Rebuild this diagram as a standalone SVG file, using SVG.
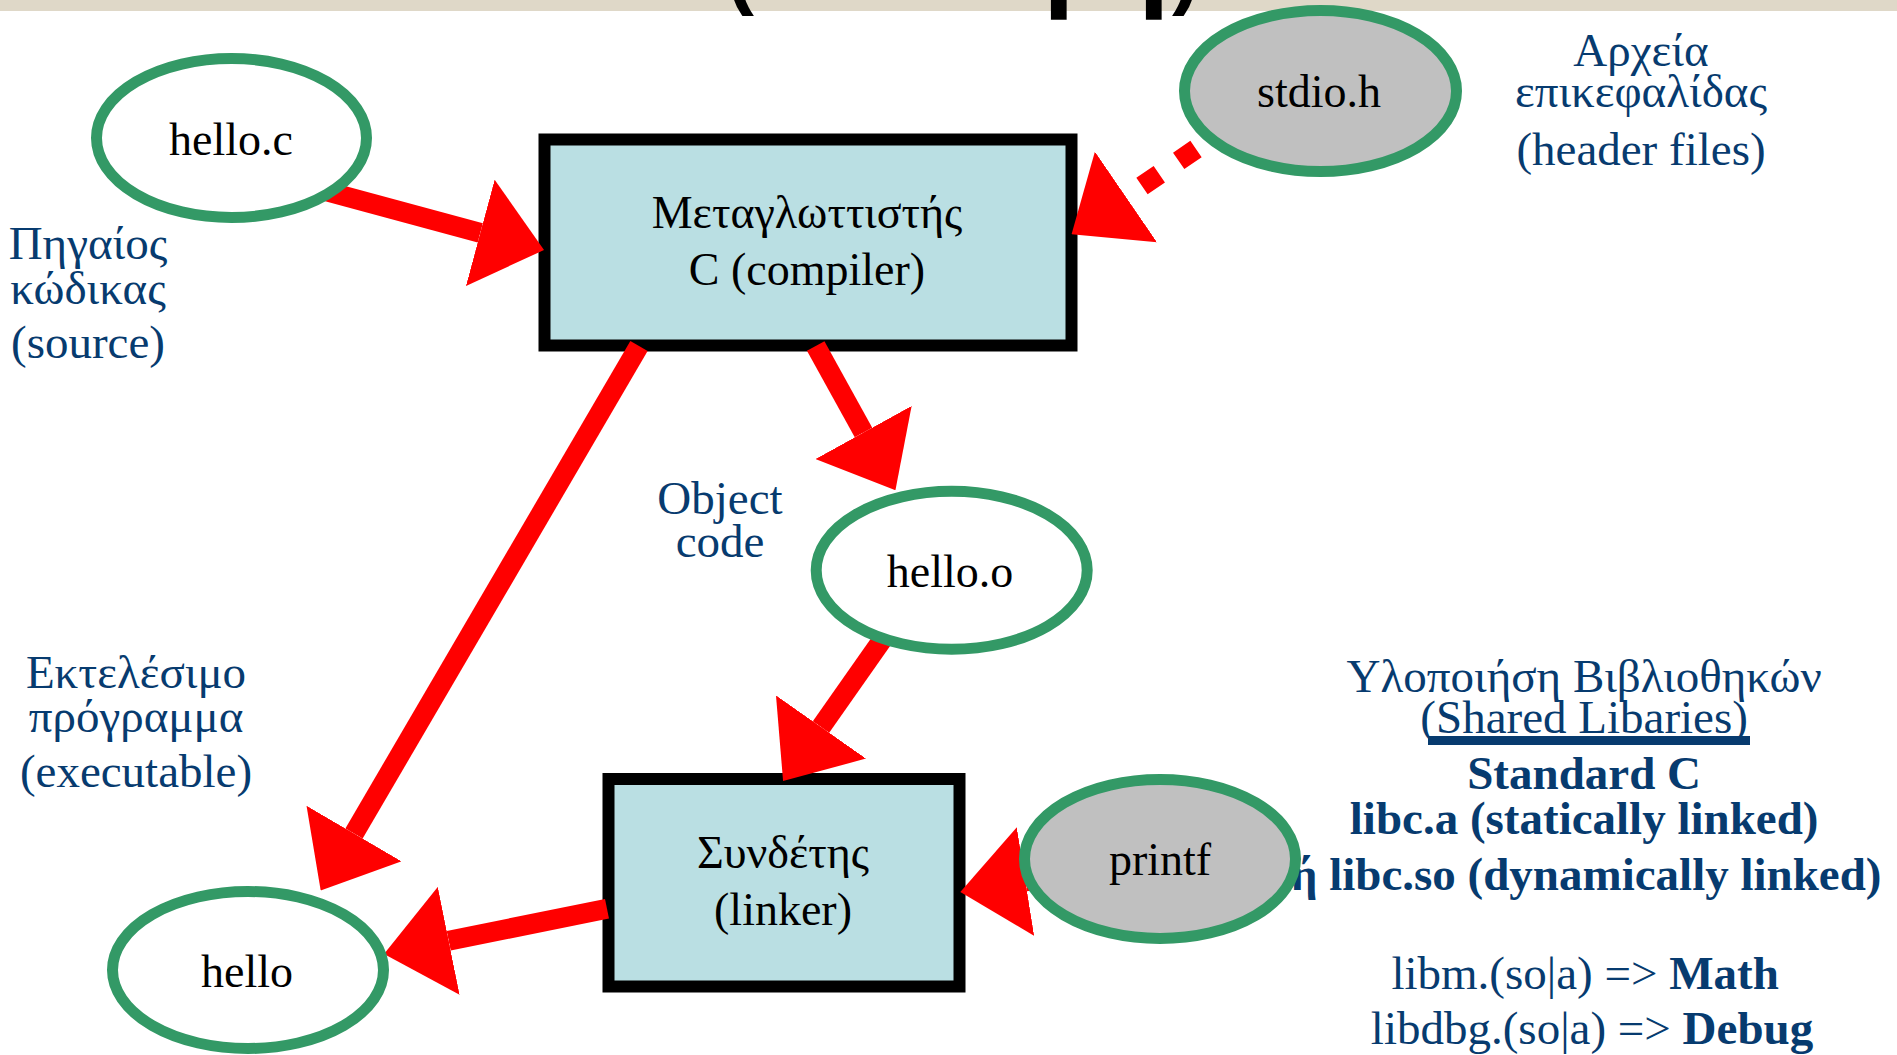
<svg xmlns="http://www.w3.org/2000/svg" width="1897" height="1055" viewBox="0 0 1897 1055">
  <defs>
    <marker id="head" markerUnits="userSpaceOnUse" markerWidth="66" markerHeight="110" viewBox="0 0 66 110" refX="0" refY="55" orient="auto">
      <path d="M0,0 L66,55 L0,110 Z" fill="#FF0000"/>
    </marker>
    <style>
      .label{font-family:"Liberation Serif","Times New Roman",serif;font-size:46px;fill:#000;text-anchor:middle}
      .note{font-family:"Liberation Serif","Times New Roman",serif;font-size:47px;fill:#073B6F;text-anchor:middle}
      .b{font-weight:bold}
      .file{fill:#FFFFFF;stroke:#339966;stroke-width:11}
      .lib{fill:#C0C0C0;stroke:#339966;stroke-width:11}
      .tool{fill:#BADFE3;stroke:#000000;stroke-width:12}
      .edge{fill:none;stroke:#FF0000;stroke-width:20;marker-end:url(#head)}
      .dashed{stroke-dasharray:21 23.5}
      .title{font-family:"Liberation Sans",Arial,sans-serif;font-weight:bold;font-size:84px;fill:#000}
    </style>
  </defs>

  <rect width="1897" height="1055" fill="#FFFFFF"/>
  <!-- header band with the bottom of the slide title -->
  <rect width="1897" height="11" fill="#DFD8C8"/>
  <text class="title" y="-1"><tspan x="726">(</tspan><tspan x="1047" stroke="#000" stroke-width="5">|</tspan><tspan x="1142" stroke="#000" stroke-width="5">|</tspan><tspan x="1172">)</tspan></text>

  <!-- explanatory notes -->
  <g id="notes">
    <text class="note"><tspan x="88" y="259">Πηγαίος</tspan><tspan x="88" y="304">κώδικας</tspan><tspan x="88" y="358">(source)</tspan></text>
    <text class="note"><tspan x="1641" y="66">Αρχεία</tspan><tspan x="1641" y="107">επικεφαλίδας</tspan><tspan x="1641" y="165">(header files)</tspan></text>
    <text class="note"><tspan x="720" y="514">Object</tspan><tspan x="720" y="557">code</tspan></text>
    <text class="note"><tspan x="136" y="688">Εκτελέσιμο</tspan><tspan x="136" y="732">πρόγραμμα</tspan><tspan x="136" y="787">(executable)</tspan></text>
    <text class="note">
      <tspan x="1590" y="692">Υλοποιήση Βιβλιοθηκών</tspan>
      <tspan x="1590" y="733">(Shared Libaries)</tspan>
      <tspan x="1590" y="789" class="b">Standard C</tspan>
      <tspan x="1590" y="834" class="b">libc.a (statically linked)</tspan>
      <tspan x="1592" y="890" class="b">ή libc.so (dynamically linked)</tspan>
      <tspan x="1591" y="989">libm.(so|a) =&gt; <tspan class="b">Math</tspan></tspan>
      <tspan x="1592" y="1044">libdbg.(so|a) =&gt; <tspan class="b">Debug</tspan></tspan>
    </text>
    <rect x="1428" y="736" width="322" height="9" fill="#073B6F"/>
  </g>

  <!-- tools -->
  <g id="compiler">
    <rect class="tool" x="544.5" y="139.5" width="527" height="206"/>
    <text class="label"><tspan x="807" y="228">Μεταγλωττιστής</tspan><tspan x="807" y="285">C (compiler)</tspan></text>
  </g>
  <g id="linker">
    <rect class="tool" x="608.5" y="779" width="351" height="207.5"/>
    <text class="label"><tspan x="783" y="868">Συνδέτης</tspan><tspan x="783" y="925">(linker)</tspan></text>
  </g>

  <!-- connectors -->
  <g id="connectors">
    <path class="edge" d="M300,184.2 L480.3,232.8"/>
    <path class="edge dashed" d="M1196,149 L1126,197"/>
    <path class="edge" d="M815.7,346 L863.5,432.5"/>
    <path class="edge" d="M639,346 L354,833.5"/>
    <path class="edge" d="M890,628.7 L821,727"/>
    <path class="edge" d="M1160,860 L1025.5,881.5"/>
    <path class="edge" d="M607,908.8 L448.7,940.8"/>
  </g>

  <!-- files -->
  <g id="hello-c">
    <ellipse class="file" cx="231.5" cy="138" rx="135" ry="79.5"/>
    <text class="label" x="231" y="155">hello.c</text>
  </g>
  <g id="stdio-h">
    <ellipse class="lib" cx="1320.5" cy="91" rx="136" ry="80.5"/>
    <text class="label" x="1319" y="107">stdio.h</text>
  </g>
  <g id="hello-o">
    <ellipse class="file" cx="951.7" cy="570.3" rx="135.5" ry="79"/>
    <text class="label" x="950" y="587">hello.o</text>
  </g>
  <g id="printf">
    <ellipse class="lib" cx="1160" cy="859" rx="135.5" ry="79.5"/>
    <text class="label" x="1160" y="875">printf</text>
  </g>
  <g id="hello">
    <ellipse class="file" cx="248" cy="970" rx="135.5" ry="78.5"/>
    <text class="label" x="247" y="987">hello</text>
  </g>
</svg>
